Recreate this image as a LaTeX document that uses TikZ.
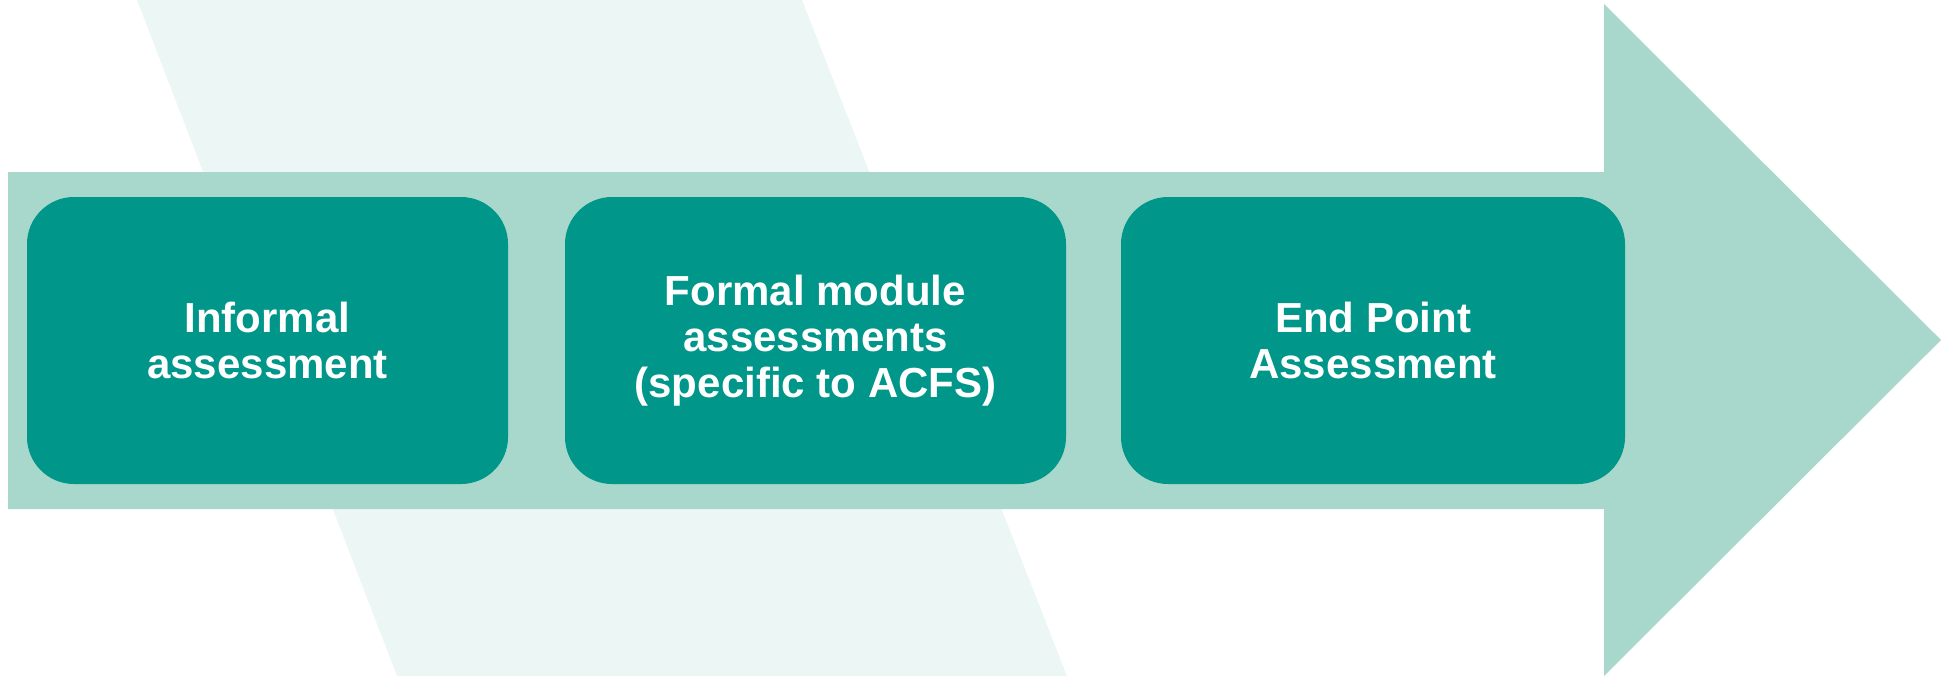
\documentclass[tikz,border=0pt]{standalone}
\usepackage{fontspec}
\setmainfont{Liberation Sans}
\definecolor{teal1}{RGB}{0,150,138}
\definecolor{mint}{RGB}{168,216,204}
\definecolor{pale}{RGB}{236,246,244}
\begin{document}
\begin{tikzpicture}[x=0.5pt,y=-0.5pt,
  stagebox/.style={fill=teal1, draw=none, rounded corners=23.5pt, inner sep=0pt,
    minimum height=143.5pt, text=white, align=center,
    font=\fontsize{21pt}{23pt}\selectfont\bfseries}]
\useasboundingbox (0,0) rectangle (1941,676);
% pale parallelogram
\fill[pale] (137,0) -- (802,0) -- (1067,676) -- (397,676) -- cycle;
% big arrow
\fill[mint] (8,172) -- (1604,172) -- (1604,4) -- (1941,340) -- (1604,676) -- (1604,509) -- (8,509) -- cycle;
% stages
\node[stagebox, minimum width=240.5pt] (informal) at (267.5,340.5) {Informal\\assessment};
\node[stagebox, minimum width=250.5pt] (formal) at (815.5,340.5) {Formal module\\assessments\\(specific to ACFS)};
\node[stagebox, minimum width=252pt] (epa) at (1373,340.5) {End Point\\Assessment};
\end{tikzpicture}
\end{document}
